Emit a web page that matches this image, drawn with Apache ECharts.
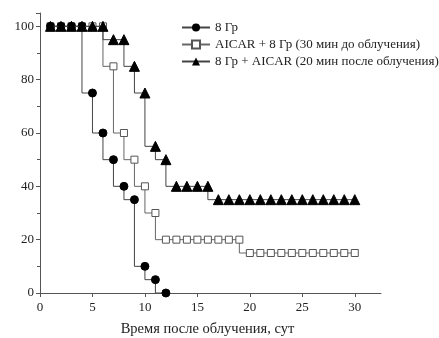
<!DOCTYPE html>
<html>
<head>
<meta charset="utf-8">
<script src="https://cdn.jsdelivr.net/npm/echarts@6/dist/echarts.min.js"></script>
<style>
  html, body { margin: 0; padding: 0; background: #fff; }
  #chart { width: 439px; height: 338px; }
</style>
</head>
<body>
<div id="chart"></div>
<script>
let names = ['8 Гр', 'AICAR + 8 Гр (30 мин до облучения)', '8 Гр + AICAR (20 мин после облучения)']
// days and survival (%) per group
let days1 = [1, 2, 3, 4, 5, 6, 7, 8, 9, 10, 11, 12]
let vals1 = [100, 100, 100, 100, 75, 60, 50, 40, 35, 10, 5, 0]
let days2 = [1, 2, 3, 4, 5, 6, 7, 8, 9, 10, 11, 12, 13, 14, 15, 16, 17, 18, 19, 20, 21, 22, 23, 24, 25, 26, 27, 28, 29, 30]
let vals2 = [100, 100, 100, 100, 100, 100, 85, 60, 50, 40, 30, 20, 20, 20, 20, 20, 20, 20, 20, 15, 15, 15, 15, 15, 15, 15, 15, 15, 15, 15]
let days3 = days2
let vals3 = [100, 100, 100, 100, 100, 100, 95, 95, 85, 75, 55, 50, 40, 40, 40, 40, 35, 35, 35, 35, 35, 35, 35, 35, 35, 35, 35, 35, 35, 35]

function pairs(xs, ys) {
  return xs.map(function (x, i) { return [x, ys[i]] })
}

let chart = echarts.init(document.getElementById('chart'))
let font = 'Liberation Serif'
let axisColor = '#555'

let option = {
  animation: false,
  backgroundColor: '#fff',
  textStyle: { fontFamily: font },
  grid: { left: 40, right: 58, top: 13, bottom: 45, outerBoundsMode: 'none' },
  legend: {
    orient: 'vertical',
    left: 176,
    top: 16,
    itemWidth: 28,
    itemHeight: 10,
    itemGap: 4,
    textStyle: { fontFamily: font, fontSize: 13, color: '#222' },
    data: names
  },
  xAxis: {
    type: 'value',
    min: 0,
    max: 32.5,
    interval: 5,
    name: 'Время после облучения, сут',
    nameLocation: 'middle',
    nameGap: 29,
    nameTextStyle: { fontFamily: font, fontSize: 14.5, color: '#222', padding: [0, 6, 0, 0] },
    splitLine: { show: false },
    axisLine: { lineStyle: { color: axisColor } },
    axisTick: { lineStyle: { color: axisColor }, length: 4 },
    axisLabel: { fontFamily: font, fontSize: 13, color: '#222', showMaxLabel: false, margin: 8 }
  },
  yAxis: {
    type: 'value',
    min: 0,
    max: 105,
    interval: 20,
    splitLine: { show: false },
    axisLine: { show: true, lineStyle: { color: axisColor } },
    axisTick: { show: true, lineStyle: { color: axisColor }, length: 4 },
    minorTick: { show: true, splitNumber: 2, length: 3, lineStyle: { color: axisColor } },
    axisLabel: { fontFamily: font, fontSize: 13, color: '#222', showMaxLabel: false, margin: 6 }
  },
  series: [
    {
      name: names[0],
      type: 'line',
      step: 'start',
      data: pairs(days1, vals1),
      symbol: 'circle',
      symbolSize: 8,
      z: 3,
      lineStyle: { color: '#444', width: 1 },
      itemStyle: { color: '#000', borderColor: '#000' }
    },
    {
      name: names[1],
      type: 'line',
      step: 'start',
      data: pairs(days2, vals2),
      symbol: 'rect',
      symbolSize: 7,
      z: 2,
      lineStyle: { color: '#666', width: 1 },
      itemStyle: { color: '#fff', borderColor: '#555', borderWidth: 1 }
    },
    {
      name: names[2],
      type: 'line',
      step: 'start',
      data: pairs(days3, vals3),
      symbol: 'triangle',
      symbolSize: 10,
      z: 4,
      lineStyle: { color: '#444', width: 1 },
      itemStyle: { color: '#000', borderColor: '#000' }
    }
  ]
}
chart.setOption(option)
</script>
</body>
</html>
